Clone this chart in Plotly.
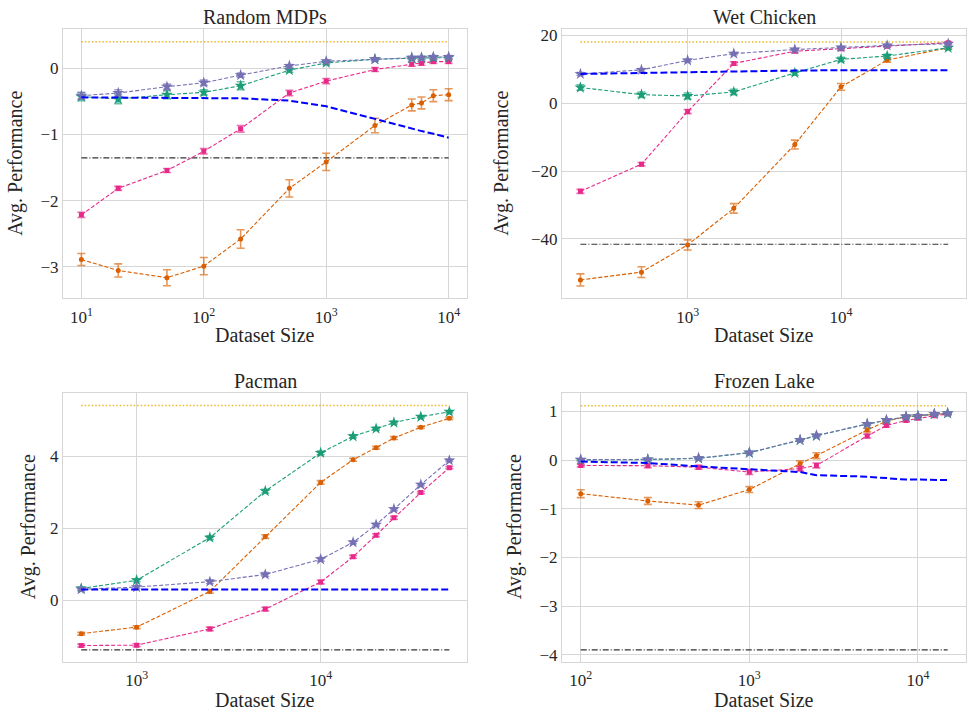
import plotly.graph_objects as go
import math

FONT = "'Liberation Serif', 'DejaVu Serif', 'Times New Roman', serif"
GREEN = "#1b9e77"; ORANGE = "#d95f02"; PURPLE = "#7570b3"; PINK = "#e7298a"
BLUE = "#0000ff"; BLACK = "#333333"; GOLD = "#e6ab02"

# ---------------- Random MDPs ----------------
rm_x = [10, 20, 50, 100, 200, 500, 1000, 2500, 5000, 6000, 7500, 10000]
rm_orange = [-2.89, -3.055, -3.165, -2.99, -2.58, -1.815, -1.415, -0.865, -0.555, -0.525, -0.415, -0.40]
rm_orange_err = [0.09, 0.1, 0.12, 0.13, 0.14, 0.13, 0.13, 0.11, 0.09, 0.09, 0.09, 0.09]
rm_pink = [-2.215, -1.815, -1.545, -1.255, -0.915, -0.375, -0.195, -0.02, 0.06, 0.075, 0.10, 0.10]
rm_pink_err = [0.04, 0.03, 0.03, 0.04, 0.05, 0.04, 0.04, 0.03, 0.03, 0.03, 0.03, 0.03]
rm_green = [-0.43, -0.465, -0.40, -0.365, -0.265, -0.03, 0.08, 0.135, 0.15, 0.155, 0.16, 0.16]
rm_green_err = [0.06, 0.07, 0.06, 0.04, 0.06, 0.03, 0.02, 0.02, 0.02, 0.02, 0.02, 0.02]
rm_purple = [-0.415, -0.375, -0.28, -0.22, -0.105, 0.035, 0.105, 0.135, 0.16, 0.16, 0.17, 0.17]
rm_purple_err = [0.05, 0.05, 0.04, 0.04, 0.03, 0.02, 0.02, 0.02, 0.02, 0.02, 0.02, 0.02]
rm_blue = [-0.44, -0.445, -0.445, -0.45, -0.455, -0.49, -0.575, -0.765, -0.915, -0.95, -0.99, -1.05]
rm_base = -1.355
rm_opt = 0.40

# ---------------- Wet Chicken ----------------
wc_x = [200, 500, 1000, 2000, 5000, 10000, 20000, 50000]
wc_orange = [-52.1, -49.8, -41.8, -31.0, -12.2, 4.8, 12.7, 16.3]
wc_orange_err = [1.8, 1.6, 1.5, 1.4, 1.3, 1.0, 0.6, 0.4]
wc_pink = [-26.0, -18.0, -2.5, 11.7, 15.3, 16.0, 16.8, 17.8]
wc_pink_err = [0.6, 0.5, 0.6, 0.5, 0.4, 0.4, 0.3, 0.3]
wc_green = [4.6, 2.5, 2.1, 3.3, 8.9, 12.9, 13.9, 16.3]
wc_green_err = [0.8, 0.8, 0.9, 0.8, 0.7, 0.6, 0.5, 0.4]
wc_purple = [8.6, 9.8, 12.6, 14.6, 15.8, 16.4, 17.0, 17.5]
wc_purple_err = [0.4, 0.4, 0.4, 0.3, 0.3, 0.3, 0.3, 0.3]
wc_blue = [8.6, 8.9, 9.2, 9.5, 9.6, 9.7, 9.7, 9.7]
wc_base = -41.6
wc_opt = 18.05

# ---------------- Pacman ----------------
pm_x = [500, 1000, 2500, 5000, 10000, 15000, 20000, 25000, 35000, 50000]
pm_green = [0.33, 0.56, 1.74, 3.03, 4.09, 4.55, 4.76, 4.93, 5.09, 5.23]
pm_orange = [-0.92, -0.74, 0.25, 1.77, 3.27, 3.90, 4.23, 4.50, 4.80, 5.05]
pm_purple = [0.31, 0.37, 0.52, 0.72, 1.14, 1.61, 2.10, 2.53, 3.21, 3.88]
pm_pink = [-1.25, -1.24, -0.79, -0.24, 0.51, 1.21, 1.81, 2.29, 2.99, 3.68]
pm_err = [0.04, 0.04, 0.05, 0.05, 0.05, 0.04, 0.04, 0.04, 0.03, 0.03]
pm_blue = [0.30, 0.30, 0.30, 0.30, 0.30, 0.30, 0.30, 0.30, 0.30, 0.30]
pm_base = -1.37
pm_opt = 5.40

# ---------------- Frozen Lake ----------------
fl_x = [100, 250, 500, 1000, 2000, 2500, 5000, 6500, 8500, 10000, 12500, 15000]
fl_green = [0.005, 0.01, 0.035, 0.15, 0.41, 0.50, 0.74, 0.82, 0.89, 0.905, 0.945, 0.96]
fl_purple = [0.01, 0.015, 0.04, 0.155, 0.415, 0.505, 0.745, 0.825, 0.895, 0.91, 0.95, 0.965]
fl_orange = [-0.69, -0.84, -0.925, -0.605, -0.075, 0.09, 0.62, 0.80, 0.895, 0.915, 0.94, 0.96]
fl_orange_err = [0.08, 0.07, 0.07, 0.06, 0.06, 0.06, 0.04, 0.03, 0.03, 0.02, 0.02, 0.02]
fl_pink = [-0.11, -0.115, -0.145, -0.245, -0.175, -0.11, 0.495, 0.71, 0.815, 0.86, 0.91, 0.95]
fl_pink_err = [0.03, 0.04, 0.04, 0.05, 0.05, 0.05, 0.04, 0.03, 0.03, 0.02, 0.02, 0.02]
fl_small_err = [0.02, 0.02, 0.02, 0.02, 0.02, 0.02, 0.02, 0.02, 0.02, 0.02, 0.02, 0.02]
fl_blue = [-0.03, -0.06, -0.13, -0.18, -0.245, -0.31, -0.34, -0.37, -0.40, -0.40, -0.405, -0.41]
fl_base = -3.90
fl_opt = 1.115

fig = go.Figure()

def rgba(hexc, a):
    h = hexc.lstrip("#")
    return "rgba(%d,%d,%d,%.2f)" % (int(h[0:2], 16), int(h[2:4], 16), int(h[4:6], 16), a)

def series(xa, ya, x, y, err, color, symbol, size):
    fig.add_trace(go.Scatter(
        x=x, y=y, mode="lines+markers", xaxis=xa, yaxis=ya, showlegend=False,
        line=dict(color=color, width=1.1, dash="4px,2px"),
        marker=dict(color=color, symbol=symbol, size=size, line=dict(width=0)),
        error_y=dict(type="data", array=err, visible=True, color=rgba(color, 0.65),
                     thickness=1.6, width=4)))

def flat(xa, ya, x, v, color, dash, width):
    fig.add_trace(go.Scatter(x=[x[0], x[-1]], y=[v, v], mode="lines", xaxis=xa, yaxis=ya,
                             showlegend=False, line=dict(color=color, width=width, dash=dash)))

def blue(xa, ya, x, y):
    fig.add_trace(go.Scatter(x=x, y=y, mode="lines", xaxis=xa, yaxis=ya, showlegend=False,
                             line=dict(color=BLUE, width=2, dash="7px,3px")))

def panel(xa, ya, x, series_list, bl, base, opt):
    flat(xa, ya, x, opt, rgba(GOLD, 0.85), "1.5px,2px", 1.5)
    flat(xa, ya, x, base, BLACK, "6px,2px,1px,2px", 1.1)
    for (y, err, color, sym, size) in series_list:
        series(xa, ya, x, y, err, color, sym, size)
    blue(xa, ya, x, bl)

STAR = "star"
panel("x", "y", rm_x, [
    (rm_orange, rm_orange_err, ORANGE, "circle", 5),
    (rm_pink, rm_pink_err, PINK, "square", 5),
    (rm_green, rm_green_err, GREEN, STAR, 9),
    (rm_purple, rm_purple_err, PURPLE, STAR, 9),
], rm_blue, rm_base, rm_opt)

panel("x2", "y2", wc_x, [
    (wc_orange, wc_orange_err, ORANGE, "circle", 5),
    (wc_pink, wc_pink_err, PINK, "square", 5),
    (wc_green, wc_green_err, GREEN, STAR, 9),
    (wc_purple, wc_purple_err, PURPLE, STAR, 9),
], wc_blue, wc_base, wc_opt)

panel("x3", "y3", pm_x, [
    (pm_orange, pm_err, ORANGE, "circle", 5),
    (pm_pink, pm_err, PINK, "square", 5),
    (pm_green, pm_err, GREEN, STAR, 9),
    (pm_purple, pm_err, PURPLE, STAR, 9),
], pm_blue, pm_base, pm_opt)

panel("x4", "y4", fl_x, [
    (fl_orange, fl_orange_err, ORANGE, "circle", 5),
    (fl_pink, fl_pink_err, PINK, "square", 5),
    (fl_green, fl_small_err, GREEN, STAR, 9),
    (fl_purple, fl_small_err, PURPLE, STAR, 9),
], fl_blue, fl_base, fl_opt)

W, H = 974, 714
def dx(a, b): return [a / W, b / W]
def dy(top, bot): return [1 - bot / H, 1 - top / H]

GRID = "#d6d6d6"
TICKC = "#262626"
def xax(dom, anchor, rng, vals, standoff):
    return dict(domain=dom, anchor=anchor, type="log", range=rng, tickvals=vals,
                ticktext=["10<sup>%d</sup>" % round(math.log10(v)) for v in vals],
                showgrid=True, gridcolor=GRID, gridwidth=1, zeroline=False,
                showline=True, linecolor=GRID, linewidth=1, mirror=True, ticks="",
                ticklabelstandoff=standoff,
                tickfont=dict(family=FONT, size=17, color=TICKC))

def yax(dom, anchor, rng, vals):
    return dict(domain=dom, anchor=anchor, range=rng, tickvals=vals,
                ticktext=[("\u2212%g" % -v) if v < 0 else "%g" % v for v in vals],
                showgrid=True, gridcolor=GRID, gridwidth=1, zeroline=False,
                showline=True, linecolor=GRID, linewidth=1, mirror=True, ticks="",
                tickfont=dict(family=FONT, size=17, color=TICKC))

fig.update_layout(
    width=W, height=H, margin=dict(l=0, r=0, t=0, b=0),
    paper_bgcolor="white", plot_bgcolor="white",
    font=dict(family=FONT, color=TICKC),
    xaxis=xax(dx(63, 467), "y", [0.85, 4.15], [10, 100, 1000, 10000], 4),
    yaxis=yax(dy(26, 297), "x", [-3.47, 0.595], [-3, -2, -1, 0]),
    xaxis2=xax(dx(562, 966), "y2", [2.181, 4.815], [1000, 10000], 4),
    yaxis2=yax(dy(26, 297), "x2", [-57.4, 21.9], [-40, -20, 0, 20]),
    xaxis3=xax(dx(63, 467), "y3", [2.6, 4.795], [1000, 10000], 2),
    yaxis3=yax(dy(393, 664), "x3", [-1.716, 5.743], [0, 2, 4]),
    xaxis4=xax(dx(562, 966), "y4", [1.889, 4.285], [100, 1000, 10000], 2),
    yaxis4=yax(dy(393, 664), "x4", [-4.156, 1.374], [-4, -3, -2, -1, 0, 1]),
)

anns = []
def txt(x, y, s, size, angle=0):
    anns.append(dict(x=x / W, y=1 - y / H, xref="paper", yref="paper", text=s, showarrow=False,
                     font=dict(family=FONT, size=size, color=TICKC), textangle=angle,
                     xanchor="center", yanchor="middle"))

txt(265, 14, "Random MDPs", 20)
txt(764, 14, "Wet Chicken", 20)
txt(265, 381, "Pacman", 20)
txt(764, 381, "Frozen Lake", 20)
txt(265, 334, "Dataset Size", 20)
txt(764, 334, "Dataset Size", 20)
txt(265, 702, "Dataset Size", 20)
txt(764, 702, "Dataset Size", 20)
txt(16, 162, "Avg. Performance", 20, -90)
txt(502, 162, "Avg. Performance", 20, -90)
txt(28, 528, "Avg. Performance", 20, -90)
txt(514, 528, "Avg. Performance", 20, -90)
fig.update_layout(annotations=anns)

fig.write_html("out.html")
